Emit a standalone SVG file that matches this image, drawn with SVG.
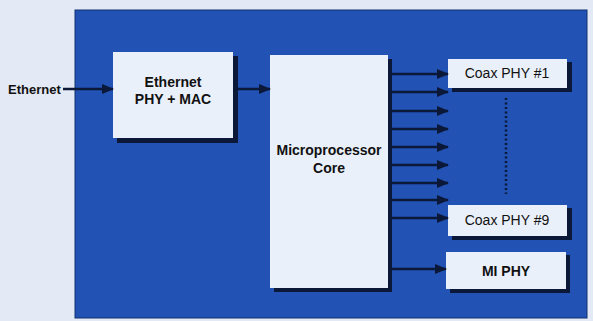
<svg xmlns="http://www.w3.org/2000/svg" width="593" height="321" viewBox="0 0 593 321">
<style>
.bg{fill:#e4eaf5}
.panel{fill:#2152b4;stroke:#123070;stroke-width:1}
.box{fill:#eaf0fa}
.sh{fill:#0b1838}
.t{font-family:"Liberation Sans",Arial,sans-serif;font-size:14px;fill:#111;text-anchor:middle}
.b{font-weight:bold}
.conn line{stroke:#0b1838;stroke-width:2.5}
</style>
<defs>
<marker id="ah" markerWidth="12" markerHeight="10" refX="11" refY="5" orient="auto" markerUnits="userSpaceOnUse">
<path d="M0,0 L12,5 L0,10 Z" fill="#0b1838"/>
</marker>
</defs>
<rect class="bg" x="0" y="0" width="593" height="321"/>
<rect class="panel" x="75" y="10" width="512" height="308"/>
<text class="t b" x="8" y="94" style="text-anchor:start;font-size:13px">Ethernet</text>
<g id="eth">
<rect class="sh" x="117" y="56" width="121" height="87"/>
<rect class="box" x="113" y="52" width="120" height="86"/>
<text class="t b" x="173" y="87">Ethernet</text>
<text class="t b" x="173" y="104">PHY + MAC</text>
</g>
<g id="cpu">
<rect class="sh" x="274" y="59" width="118" height="233"/>
<rect class="box" x="270" y="55" width="118" height="233"/>
<text class="t b" x="329" y="155">Microprocessor</text>
<text class="t b" x="329" y="173">Core</text>
</g>
<g id="coax1">
<rect class="sh" x="452" y="62" width="120" height="30"/>
<rect class="box" x="448" y="59" width="119" height="29"/>
<text class="t" x="507" y="78">Coax PHY #1</text>
</g>
<g id="coax9">
<rect class="sh" x="452" y="208" width="120" height="32"/>
<rect class="box" x="448" y="205" width="119" height="31"/>
<text class="t" x="507" y="225">Coax PHY #9</text>
</g>
<g id="mi">
<rect class="sh" x="450" y="255" width="120" height="38"/>
<rect class="box" x="446" y="252" width="120" height="37"/>
<text class="t b" x="506" y="276">MI PHY</text>
</g>
<g class="conn">
<line x1="63" y1="89" x2="113" y2="89" marker-end="url(#ah)"/>
<line x1="238" y1="89" x2="270" y2="89" marker-end="url(#ah)"/>
<line x1="392" y1="74" x2="448" y2="74" marker-end="url(#ah)"/>
<line x1="392" y1="92" x2="448" y2="92" marker-end="url(#ah)"/>
<line x1="392" y1="111" x2="448" y2="111" marker-end="url(#ah)"/>
<line x1="392" y1="129" x2="448" y2="129" marker-end="url(#ah)"/>
<line x1="392" y1="147" x2="448" y2="147" marker-end="url(#ah)"/>
<line x1="392" y1="165" x2="448" y2="165" marker-end="url(#ah)"/>
<line x1="392" y1="183" x2="448" y2="183" marker-end="url(#ah)"/>
<line x1="392" y1="200" x2="448" y2="200" marker-end="url(#ah)"/>
<line x1="392" y1="218" x2="448" y2="218" marker-end="url(#ah)"/>
<line x1="392" y1="269" x2="446" y2="269" marker-end="url(#ah)"/>
<line x1="506" y1="98" x2="506" y2="194" style="stroke-width:2.5;stroke-dasharray:2 2.5"/>
</g>
</svg>
